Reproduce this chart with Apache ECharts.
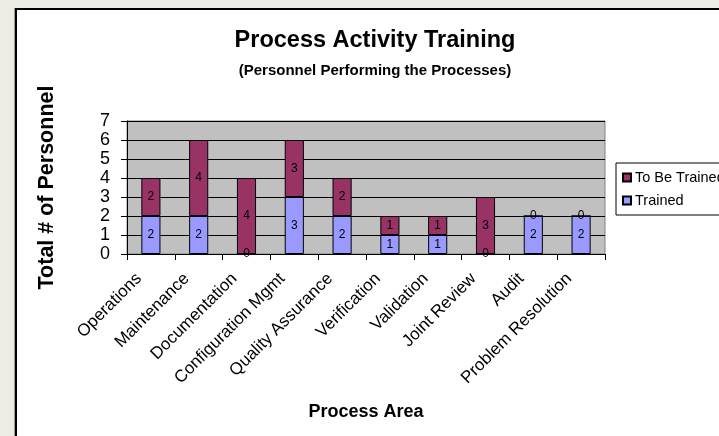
<!DOCTYPE html>
<html>
<head>
<meta charset="utf-8">
<script src="https://cdn.jsdelivr.net/npm/echarts@6/dist/echarts.min.js"></script>
<style>
  html, body { margin: 0; padding: 0; background: #ECECE4; }
  #chart { width: 719px; height: 436px; }
</style>
</head>
<body>
<div id="chart"></div>
<script>
// Process areas and head counts per training status
const categories = ['Operations', 'Maintenance', 'Documentation', 'Configuration Mgmt',
  'Quality Assurance', 'Verification', 'Validation', 'Joint Review', 'Audit', 'Problem Resolution'];
const trained = [2, 2, 0, 3, 2, 1, 1, 0, 2, 2];
const toBeTrained = [2, 4, 4, 3, 2, 1, 1, 3, 0, 0];
const yTicks = { min: 0, max: 7, step: 1 };

const FONT = 'Arial, "Liberation Sans", Helvetica, sans-serif';

const chart = echarts.init(document.getElementById('chart'), null, { renderer: 'canvas' });

chart.setOption({
  backgroundColor: '#ECECE4',
  animation: false,
  textStyle: { fontFamily: FONT, color: '#000' },
  graphic: [
    // drop shadow and white chart frame
    { type: 'rect', z: -10, shape: { x: 14, y: 8, width: 720, height: 440 },
      style: { fill: '#9a9a94' } },
    { type: 'rect', z: -9, shape: { x: 16, y: 9, width: 720, height: 440 },
      style: { fill: '#fff', stroke: '#000', lineWidth: 2 } }
  ],
  title: {
    text: 'Process Activity Training',
    subtext: '(Personnel Performing the Processes)',
    left: 370,
    top: 24,
    textAlign: 'center',
    itemGap: 10,
    textStyle: { fontFamily: FONT, fontSize: 23.5, fontWeight: 'bold', color: '#000' },
    subtextStyle: { fontFamily: FONT, fontSize: 15, fontWeight: 'bold', color: '#000' }
  },
  legend: {
    orient: 'vertical',
    left: 616,
    top: 163,
    data: ['To Be Trained', 'Trained'],
    backgroundColor: '#fff',
    borderColor: '#000',
    borderWidth: 1,
    borderRadius: 0,
    padding: [7, 10, 7, 6],
    itemGap: 8,
    itemWidth: 8,
    itemHeight: 8,
    icon: 'rect',
    textStyle: { fontFamily: FONT, fontSize: 14.5, color: '#000', padding: [0, 0, 0, -1] }
  },
  grid: {
    left: 127,
    right: 114,
    top: 121,
    bottom: 182,
    show: true,
    backgroundColor: '#C0C0C0',
    borderColor: '#808080',
    borderWidth: 1
  },
  xAxis: {
    type: 'category',
    data: categories,
    name: 'Process Area',
    nameLocation: 'middle',
    nameGap: 149,
    nameTextStyle: { fontFamily: FONT, fontSize: 18, fontWeight: 'bold', color: '#000' },
    axisLine: { lineStyle: { color: '#000', width: 1 } },
    axisTick: { show: true, alignWithLabel: false, length: 6, lineStyle: { color: '#000' } },
    axisLabel: { rotate: 45, fontSize: 17, color: '#000', margin: 10, interval: 0,
      padding: [0, 17, 0, 0] }
  },
  yAxis: {
    type: 'value',
    min: yTicks.min,
    max: yTicks.max,
    interval: yTicks.step,
    name: 'Total # of Personnel',
    nameLocation: 'middle',
    nameGap: 69,
    nameTextStyle: { fontFamily: FONT, fontSize: 21.5, fontWeight: 'bold', color: '#000' },
    axisLine: { show: true, lineStyle: { color: '#000', width: 1 } },
    axisTick: { show: true, length: 6, lineStyle: { color: '#000' } },
    axisLabel: { fontSize: 18, color: '#000', margin: 17 },
    splitLine: { show: true, lineStyle: { color: '#000', width: 1 } }
  },
  series: [
    {
      name: 'Trained',
      type: 'bar',
      stack: 'total',
      data: trained,
      barWidth: '40%',
      itemStyle: { color: '#9999FF', borderColor: '#000', borderWidth: 1 },
      label: { show: true, position: 'inside', fontSize: 12, color: '#000' }
    },
    {
      name: 'To Be Trained',
      type: 'bar',
      stack: 'total',
      data: toBeTrained,
      barWidth: '40%',
      itemStyle: { color: '#993366', borderColor: '#000', borderWidth: 1 },
      label: { show: true, position: 'inside', fontSize: 12, color: '#000' }
    }
  ]
});
</script>
</body>
</html>
